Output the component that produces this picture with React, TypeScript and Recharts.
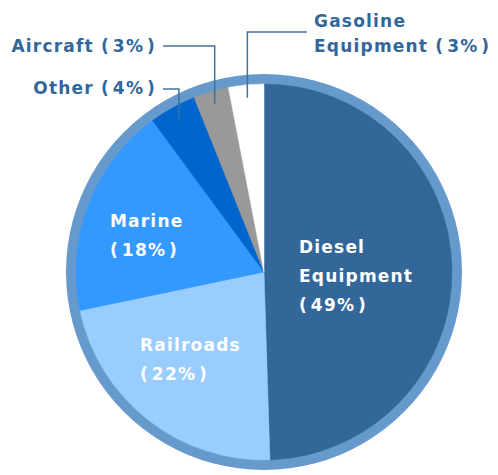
import { PieChart, Pie, Cell } from 'recharts'

const categories = ['Diesel Equipment', 'Railroads', 'Marine', 'Other', 'Aircraft', 'Gasoline Equipment']
const shares = [49, 22, 18, 4, 3, 3]
const sliceColors = ['#336699', '#99CCFF', '#3399FF', '#0066CC', '#999999', '#FFFFFF']

const data = categories.map((name, i) => ({ name, value: shares[i] }))
const ring = [{ name: 'ring', value: 1 }]

const CX = 264
const CY = 272
const RAD = Math.PI / 180
const FONT = '"DejaVu Sans", Verdana, sans-serif'
const LINE_GAP = 29

// where each label sits, as offsets from the pie centre
const spots = [
  { inside: true, dx: 35, dy: -19 },
  { inside: true, dx: -124, dy: 79 },
  { inside: true, dx: -154, dy: -45 },
  { inside: false, anchor: 'end', dx: -108, dy: -178, lineY: -183, lineX: -101 },
  { inside: false, anchor: 'end', dx: -108, dy: -220, lineY: -226, lineX: -101 },
  { inside: false, anchor: 'start', dx: 50, dy: -245, lineY: -240, lineX: 43 },
]

const textStyle = { fontFamily: FONT, fontWeight: 'bold' as const, fontSize: 17, letterSpacing: 1.2 }

function renderLabel(props: any) {
  const { cx, cy, midAngle, index } = props
  const spot: any = spots[index]
  const pct = `(\u200a${shares[index]}%\u200a)`
  const words = categories[index].split(' ')

  if (spot.inside) {
    const lines = [...words, pct]
    const x = cx + spot.dx
    return (
      <text x={x} y={cy + spot.dy} fill="#FFFFFF" textAnchor="start" style={textStyle}>
        {lines.map((l, i) => (
          <tspan key={i} x={x} dy={i === 0 ? 0 : LINE_GAP}>{l}</tspan>
        ))}
      </text>
    )
  }

  const lines = [...words.slice(0, -1), `${words[words.length - 1]} ${pct}`]
  const x = cx + spot.dx
  const ex = cx + 175 * Math.cos(-midAngle * RAD)
  const ey = cy + 175 * Math.sin(-midAngle * RAD)
  const ly = cy + spot.lineY
  return (
    <g>
      <polyline
        points={`${cx + spot.lineX},${ly} ${ex},${ly} ${ex},${ey}`}
        fill="none"
        stroke="#41709f"
        strokeWidth={1.5}
      />
      <text x={x} y={cy + spot.dy} fill="#336699" textAnchor={spot.anchor} style={textStyle}>
        {lines.map((l, i) => (
          <tspan key={i} x={x} dy={i === 0 ? 0 : 25}>{l}</tspan>
        ))}
      </text>
    </g>
  )
}

export default function App() {
  return (
    <div style={{ position: 'fixed', left: 0, top: 0, background: '#fff' }}>
      <PieChart width={498} height={475} margin={{ top: 0, right: 0, bottom: 0, left: 0 }}>
        <Pie
          data={ring}
          dataKey="value"
          cx={CX}
          cy={CY}
          outerRadius={198}
          fill="#6699CC"
          stroke="none"
          isAnimationActive={false}
        />
        <Pie
          data={data}
          dataKey="value"
          nameKey="name"
          cx={CX}
          cy={CY}
          outerRadius={188}
          startAngle={90}
          endAngle={-270}
          label={renderLabel}
          labelLine={false}
          isAnimationActive={false}
        >
          {data.map((d, i) => (
            <Cell key={d.name} fill={sliceColors[i]} stroke={sliceColors[i]} strokeWidth={0.5} />
          ))}
        </Pie>
      </PieChart>
    </div>
  )
}
